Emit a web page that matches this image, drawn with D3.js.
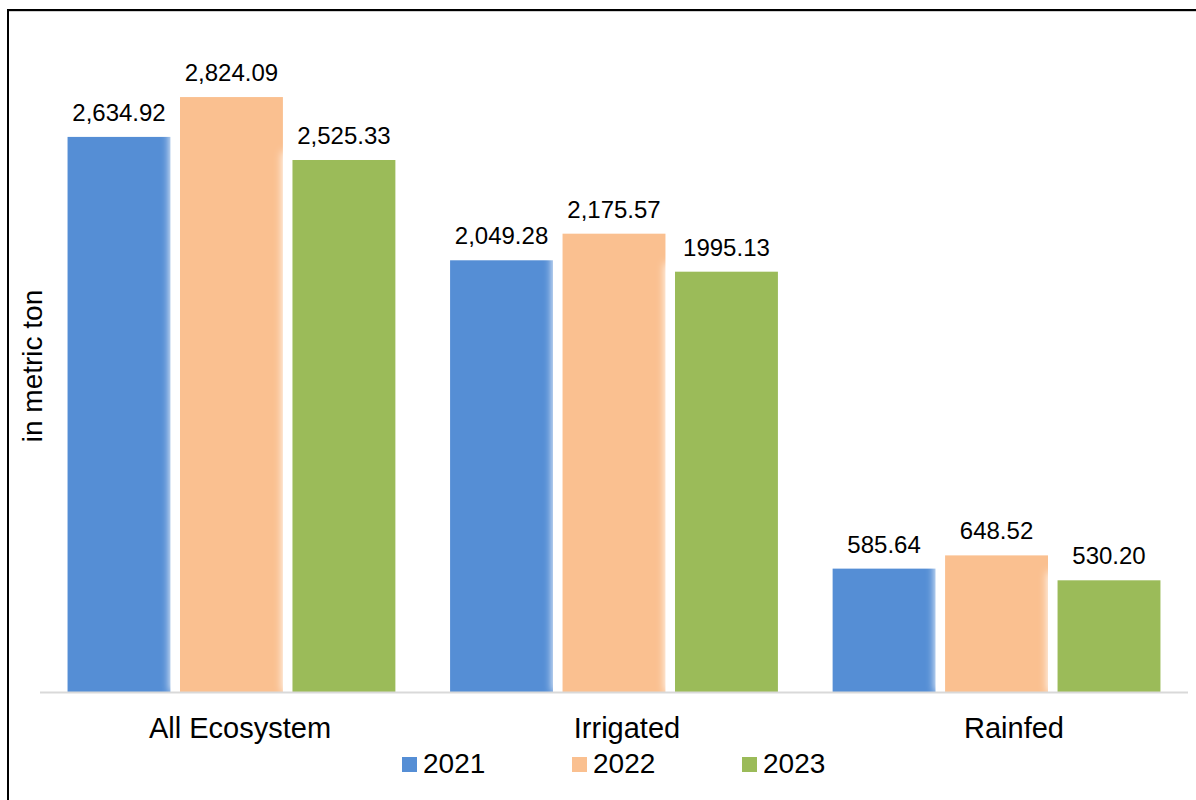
<!DOCTYPE html>
<html><head><meta charset="utf-8">
<script src="https://cdn.jsdelivr.net/npm/d3@7"></script>
<style>html,body{margin:0;padding:0;background:#fff;}svg{display:block;}</style>
</head><body>
<svg id="chart" width="1196" height="800"></svg>
<script>
const categories = ["All Ecosystem", "Irrigated", "Rainfed"];
const seriesNames = ["2021", "2022", "2023"];
const values2021 = [2634.92, 2049.28, 585.64];
const values2022 = [2824.09, 2175.57, 648.52];
const values2023 = [2525.33, 1995.13, 530.20];
const labels2021 = ["2,634.92", "2,049.28", "585.64"];
const labels2022 = ["2,824.09", "2,175.57", "648.52"];
const labels2023 = ["2,525.33", "1995.13", "530.20"];
const colors = ["#558ed5", "#fac090", "#9bbb59"];
const yTitle = "in metric ton";

const seriesValues = [values2021, values2022, values2023];
const seriesLabels = [labels2021, labels2022, labels2023];

const svg = d3.select("#chart");
const font = "'Liberation Sans', Arial, sans-serif";

// frame
svg.append("line").attr("x1", 7).attr("x2", 1196).attr("y1", 11.5).attr("y2", 11.5).attr("stroke", "#d0d0d0").attr("stroke-width", 1);
svg.append("line").attr("x1", 7).attr("x2", 1196).attr("y1", 10).attr("y2", 10).attr("stroke", "#000").attr("stroke-width", 2);
svg.append("line").attr("x1", 8).attr("x2", 8).attr("y1", 9).attr("y2", 800).attr("stroke", "#000").attr("stroke-width", 2);

const x0 = d3.scaleBand().domain(categories).range([40, 1188]).paddingInner(0.143).paddingOuter(0.072);
const x1 = d3.scaleBand().domain(seriesNames).range([0, x0.bandwidth()]).paddingInner(0.085);
const xLabel = d3.scalePoint().domain(categories).range([240, 1014]);
const y = d3.scaleLinear().domain([0, 3000]).range([692, 60]);

const defs = svg.append("defs");
defs.append("filter").attr("id", "glow").attr("x", "-50%").attr("y", "-50%").attr("width", "200%").attr("height", "200%")
  .append("feGaussianBlur").attr("stdDeviation", 4);

const data = [];
categories.forEach((c, ci) => {
  seriesNames.forEach((s, si) => {
    data.push({cat: c, ser: s, si, v: seriesValues[si][ci], label: seriesLabels[si][ci]});
  });
});

const g = svg.append("g");
data.forEach(d => {
  const bx = x0(d.cat) + x1(d.ser);
  const bw = x1.bandwidth();
  // soft white glow (overlaps previous bar's right edge)
  g.append("rect")
    .attr("x", bx - 10).attr("y", y(d.v) - 8)
    .attr("width", bw + 20).attr("height", y(0) - y(d.v) + 8)
    .attr("fill", "#fff").attr("filter", "url(#glow)");
  g.append("rect")
    .attr("x", bx).attr("y", y(d.v))
    .attr("width", bw).attr("height", y(0) - y(d.v))
    .attr("fill", colors[d.si]);
});

// axis line
svg.append("line").attr("x1", 40).attr("x2", 1188).attr("y1", 692.5).attr("y2", 692.5).attr("stroke", "#d9d9d9").attr("stroke-width", 2);

// value labels
svg.append("g").selectAll("text").data(data).join("text")
  .attr("x", d => x0(d.cat) + x1(d.ser) + x1.bandwidth() / 2)
  .attr("y", d => y(d.v) - 16)
  .attr("text-anchor", "middle")
  .attr("font-family", font).attr("font-size", 24).attr("fill", "#000")
  .text(d => d.label);

// category labels
svg.append("g").selectAll("text").data(categories).join("text")
  .attr("x", d => xLabel(d))
  .attr("y", 738)
  .attr("text-anchor", "middle")
  .attr("font-family", font).attr("font-size", 29).attr("fill", "#000")
  .text(d => d);

// y title
svg.append("text")
  .attr("transform", "translate(42,366) rotate(-90)")
  .attr("text-anchor", "middle")
  .attr("font-family", font).attr("font-size", 28).attr("fill", "#000")
  .text(yTitle);

// legend
const legendX = [402, 572, 742];
const lg = svg.append("g").selectAll("g").data(seriesNames).join("g")
  .attr("transform", (d, i) => `translate(${legendX[i]},773)`);
lg.append("rect").attr("x", 0).attr("y", -16).attr("width", 15).attr("height", 15).attr("fill", (d, i) => colors[i]);
lg.append("text").attr("x", 21).attr("y", 0).attr("font-family", font).attr("font-size", 28).attr("fill", "#000").text(d => d);
</script>
</body></html>
